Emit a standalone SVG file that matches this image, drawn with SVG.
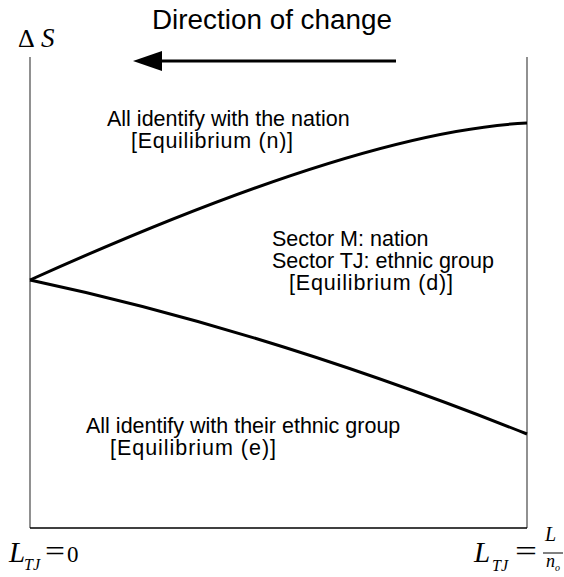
<svg xmlns="http://www.w3.org/2000/svg" width="564" height="577" viewBox="0 0 564 577">
<style>
.lbl{font-family:"Liberation Sans",Arial,sans-serif;font-size:21.5px;fill:#000}
.math{font-family:"Liberation Serif","Times New Roman",serif;fill:#000}
.it{font-style:italic}
.axis{stroke:#555;stroke-width:1.3;fill:none}
.curve{stroke:#000;stroke-width:3;fill:none}
</style>
<rect width="564" height="577" fill="#fff"/>
<g id="axes">
<line class="axis" x1="30" y1="57" x2="30" y2="528"/>
<line class="axis" x1="527" y1="57" x2="527" y2="528"/>
<line x1="30" y1="528" x2="527" y2="528" stroke="#000" stroke-width="1.5"/>
</g>
<g id="connectors">
<path class="curve" d="M30,280 Q360,131 527,123"/>
<path class="curve" d="M30,280 Q266,330 527,434"/>
<line x1="396" y1="61" x2="158" y2="61" stroke="#000" stroke-width="3"/>
<path d="M133,61 L162,51 L162,71 Z" fill="#000"/>
</g>
<g id="title"><text x="152" y="29" font-family="'Liberation Sans',Arial,sans-serif" font-size="27" textLength="240" lengthAdjust="spacingAndGlyphs">Direction of change</text></g>
<g id="ylabel">
<text class="math" x="18" y="47" font-size="26">Δ</text>
<text class="math it" x="41" y="47" font-size="27">S</text>
</g>
<g id="region-n">
<text class="lbl" x="107" y="126">All identify with the nation</text>
<text class="lbl" x="131" y="148" textLength="162" lengthAdjust="spacing">[Equilibrium (n)]</text>
</g>
<g id="region-d">
<text class="lbl" x="272" y="246">Sector M: nation</text>
<text class="lbl" x="272" y="268">Sector TJ: ethnic group</text>
<text class="lbl" x="289" y="290" textLength="164" lengthAdjust="spacing">[Equilibrium (d)]</text>
</g>
<g id="region-e">
<text class="lbl" x="86" y="433">All identify with their ethnic group</text>
<text class="lbl" x="110" y="455" textLength="166" lengthAdjust="spacing">[Equilibrium (e)]</text>
</g>
<g id="xlabel-left">
<text class="math it" x="9" y="562" font-size="29">L</text>
<text class="math it" x="24" y="570" font-size="16">TJ</text>
<text class="math" x="45" y="561" font-size="30" textLength="20" lengthAdjust="spacingAndGlyphs">=</text>
<text class="math" x="67" y="562" font-size="23">0</text>
</g>
<g id="xlabel-right">
<text class="math it" x="474" y="562" font-size="29">L</text>
<text class="math it" x="492" y="571" font-size="16">TJ</text>
<text class="math" x="515" y="561" font-size="30" textLength="22" lengthAdjust="spacingAndGlyphs">=</text>
<text class="math it" x="545" y="541" font-size="20">L</text>
<line x1="543" y1="553" x2="563" y2="553" stroke="#000" stroke-width="1"/>
<text class="math it" x="546" y="567" font-size="18">n</text>
<text class="math it" x="555" y="571" font-size="10">o</text>
</g>
</svg>
